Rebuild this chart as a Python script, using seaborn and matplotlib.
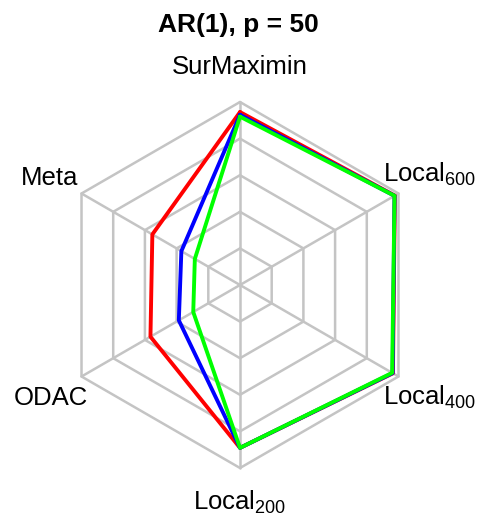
import numpy as np
import pandas as pd
import matplotlib
matplotlib.use("Agg")
import matplotlib.pyplot as plt
import seaborn as sns

axes_labels = ["SurMaximin", r"Local$_{\mathregular{600}}$", r"Local$_{\mathregular{400}}$",
               r"Local$_{\mathregular{200}}$", "ODAC", "Meta"]
series_names = ["Red", "Blue", "Green"]
red_vals = [0.945, 0.977, 0.965, 0.89, 0.565, 0.553]
blue_vals = [0.93, 0.975, 0.963, 0.89, 0.386, 0.37]
green_vals = [0.92, 0.975, 0.96, 0.89, 0.295, 0.285]
grid_levels = [0.2, 0.4, 0.6, 0.8, 1.0]
colors = {"Red": "#ff0000", "Blue": "#0000ff", "Green": "#00ff00"}

sns.set_style("white")
plt.rcParams["font.family"] = ["Liberation Sans", "DejaVu Sans"]
plt.rcParams["text.color"] = "black"
plt.rcParams["mathtext.fontset"] = "custom"
plt.rcParams["mathtext.rm"] = "Liberation Sans"
plt.rcParams["mathtext.it"] = "Liberation Sans"

n = len(axes_labels)
theta = np.linspace(0, 2 * np.pi, n, endpoint=False)

rows = []
for name, vals in zip(series_names, [red_vals, blue_vals, green_vals]):
    for i in range(n + 1):
        rows.append({"series": name, "theta": theta[i % n], "r": vals[i % n], "order": i})
df = pd.DataFrame(rows)

W, H = 483, 522
fig = plt.figure(figsize=(W / 100, H / 100), dpi=100)
cx, cy, R = 240, 285, 183
ax = fig.add_axes([(cx - R) / W, (H - cy - R) / H, 2 * R / W, 2 * R / H], projection="polar")
ax.set_theta_zero_location("N")
ax.set_theta_direction(-1)
ax.set_ylim(0, 1)
ax.grid(False)
ax.spines["polar"].set_visible(False)
ax.set_xticks([])
ax.set_yticks([])
ax.patch.set_alpha(0)

grid_color = "#c4c4c4"
tt = np.append(theta, theta[0])
for lev in grid_levels:
    ax.plot(tt, [lev] * (n + 1), color=grid_color, lw=1.8, zorder=1, clip_on=False)
for t in theta:
    ax.plot([t, t], [0, 1], color=grid_color, lw=1.8, zorder=1, clip_on=False)

sns.lineplot(data=df, x="theta", y="r", hue="series", units="series", estimator=None,
             sort=False, palette=colors, hue_order=series_names, lw=2.8, ax=ax,
             legend=False, zorder=3)
for line in ax.lines:
    line.set_clip_on(False)

fs = 18.5
def ftext(x, y, s, **kw):
    fig.text(x / W, 1 - y / H, s, fontsize=kw.pop("size", fs), va="baseline",
             color="black", **kw)

ftext(238, 32, "AR(1), p = 50", ha="center", fontweight="bold", size=19)
ftext(240, 74, axes_labels[0], ha="center")
ftext(383, 182, axes_labels[1], ha="left")
ftext(383, 405, axes_labels[2], ha="left")
ftext(240, 510, axes_labels[3], ha="center")
ftext(14, 405, axes_labels[4], ha="left")
ftext(21, 185, axes_labels[5], ha="left")

fig.savefig("out.png", dpi=100)
